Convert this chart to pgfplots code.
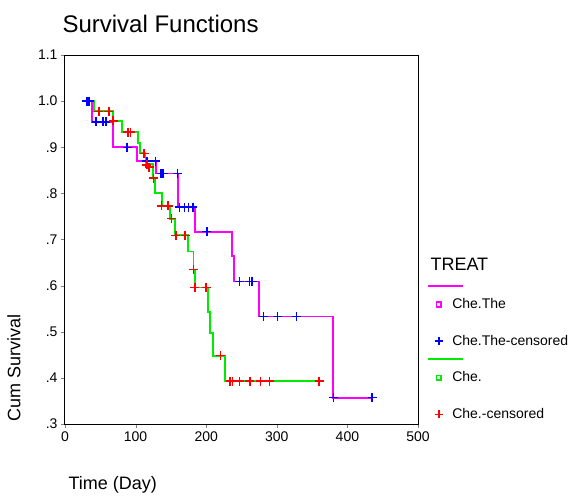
\documentclass[border=0pt]{standalone}
\usepackage{pgfplots}
\pgfplotsset{compat=1.18}
\usepackage{fontspec}
\setmainfont{Liberation Sans}
\definecolor{spssmag}{RGB}{255,0,255}
\definecolor{spssblue}{RGB}{0,0,255}
\definecolor{spssgreen}{RGB}{0,235,0}
\definecolor{spssred}{RGB}{255,0,0}
\pgfplotsset{
  kmline/.style={legend image code/.code={%
    \path[draw=none,fill=none] (-4pt,-4pt) rectangle (4pt,4pt);
    \draw[overlay,draw=#1,fill=none,line width=1.9pt] (-11pt,0pt) -- (24pt,0pt);}},
  kmmark/.style n args={3}{legend image code/.code={%
    \path[draw=none,fill=none] (-4pt,-4pt) rectangle (4pt,4pt);
    \path[draw=#1,fill=none,line width=1.5pt] plot[only marks,mark=#2,mark size=#3] coordinates {(0pt,0pt)};}},
}
\begin{document}
\begin{tikzpicture}
\begin{axis}[
    scale only axis,
    width=353pt, height=369pt,
    xmin=0, xmax=500, ymin=0.3, ymax=1.1,
    xtick={0,100,200,300,400,500},
    ytick={0.3,0.4,0.5,0.6,0.7,0.8,0.9,1.0,1.1},
    yticklabels={.3,.4,.5,.6,.7,.8,.9,1.0,1.1},
    tick pos=left, tick align=outside,
    major tick length=4pt,
    axis line style={line width=1pt},
    /pgf/number format/assume math mode=true,
    tick label style={font=\fontsize{14}{16}\selectfont},
    clip=false,
    legend style={at={(1.047,0.393)}, anchor=north west, draw=none, fill=none,
        inner sep=0pt, row sep=4.3pt, column sep=9.5pt,
        nodes={inner sep=0pt, text height=11pt, text depth=3pt, font=\fontsize{14}{16}\selectfont},
        cells={anchor=west}},
]
% Che.The survival curve
\addplot[forget plot, const plot, no marks, draw=spssmag, line width=1.9pt] coordinates {
 (31,1.0) (38,0.955) (68,0.90) (102,0.87) (129,0.843) (160,0.77) (184,0.717)
 (237,0.665) (240,0.609) (275,0.533) (379,0.357) (435,0.357)};
\addplot[forget plot, only marks, draw=spssblue, mark=+, mark size=4.5pt, line width=1.5pt] coordinates {
 (31,1.0) (34,1.0) (44,0.955) (54,0.955) (58,0.955) (88,0.90) (116,0.87) (128,0.87)
 (136,0.843) (139,0.843) (159,0.843) (162,0.77) (169,0.77) (175,0.77) (181,0.77)
 (201,0.717) (247,0.609) (261,0.609) (265,0.609) (281,0.533) (301,0.533) (328,0.533)
 (380,0.357) (435,0.357)};
% Che. survival curve
\addplot[forget plot, const plot, no marks, draw=spssgreen, line width=1.9pt] coordinates {
 (31,1.0) (41,0.978) (68,0.957) (81,0.933) (103,0.909) (106,0.887) (114,0.863)
 (125,0.833) (128,0.80) (137,0.773) (149,0.745) (156,0.709) (174,0.674) (182,0.635)
 (184,0.596) (203,0.543) (205,0.498) (210,0.448) (227,0.393) (360,0.393)};
\addplot[forget plot, only marks, draw=spssred, mark=+, mark size=4.5pt, line width=1.5pt] coordinates {
 (48,0.978) (62,0.978) (68,0.957) (89,0.933) (93,0.933) (112,0.887) (116,0.862)
 (119,0.857) (125,0.833) (137,0.773) (146,0.773) (151,0.745) (157,0.709) (170,0.709)
 (182,0.635) (184,0.596) (200,0.596) (220,0.448) (234,0.393) (237,0.393) (247,0.393)
 (262,0.393) (277,0.393) (290,0.393) (360,0.393)};

% legend
\addlegendimage{kmline=spssmag}
\addlegendentry{\mbox{}}
\addlegendimage{kmmark={spssmag}{square}{2.4pt}}
\addlegendentry{Che.The}
\addlegendimage{empty legend}
\addlegendentry{\mbox{}}
\addlegendimage{kmmark={spssblue}{+}{4pt}}
\addlegendentry{Che.The-censored}
\addlegendimage{kmline=spssgreen}
\addlegendentry{\mbox{}}
\addlegendimage{kmmark={spssgreen}{square}{2.4pt}}
\addlegendentry{Che.}
\addlegendimage{empty legend}
\addlegendentry{\mbox{}}
\addlegendimage{kmmark={spssred}{+}{4pt}}
\addlegendentry{Che.-censored}

\node[anchor=west, font=\fontsize{18}{20}\selectfont] at (rel axis cs:1.0255,0.4336) {TREAT};
\node[rotate=90, anchor=west, font=\fontsize{18}{20}\selectfont] at (rel axis cs:-0.1445,-0.003) {Cum Survival};
\node[anchor=west, font=\fontsize{18}{20}\selectfont] at (rel axis cs:0,-0.165) {Time (Day)};
\end{axis}
\node[anchor=base west, font=\fontsize{24}{28}\selectfont] at ([shift={(-6pt,23pt)}]current axis.north west) {Survival Functions};
\path ([shift={(-65pt,-71pt)}]current axis.south west) rectangle ++(577pt,495pt);
\end{tikzpicture}
\end{document}
